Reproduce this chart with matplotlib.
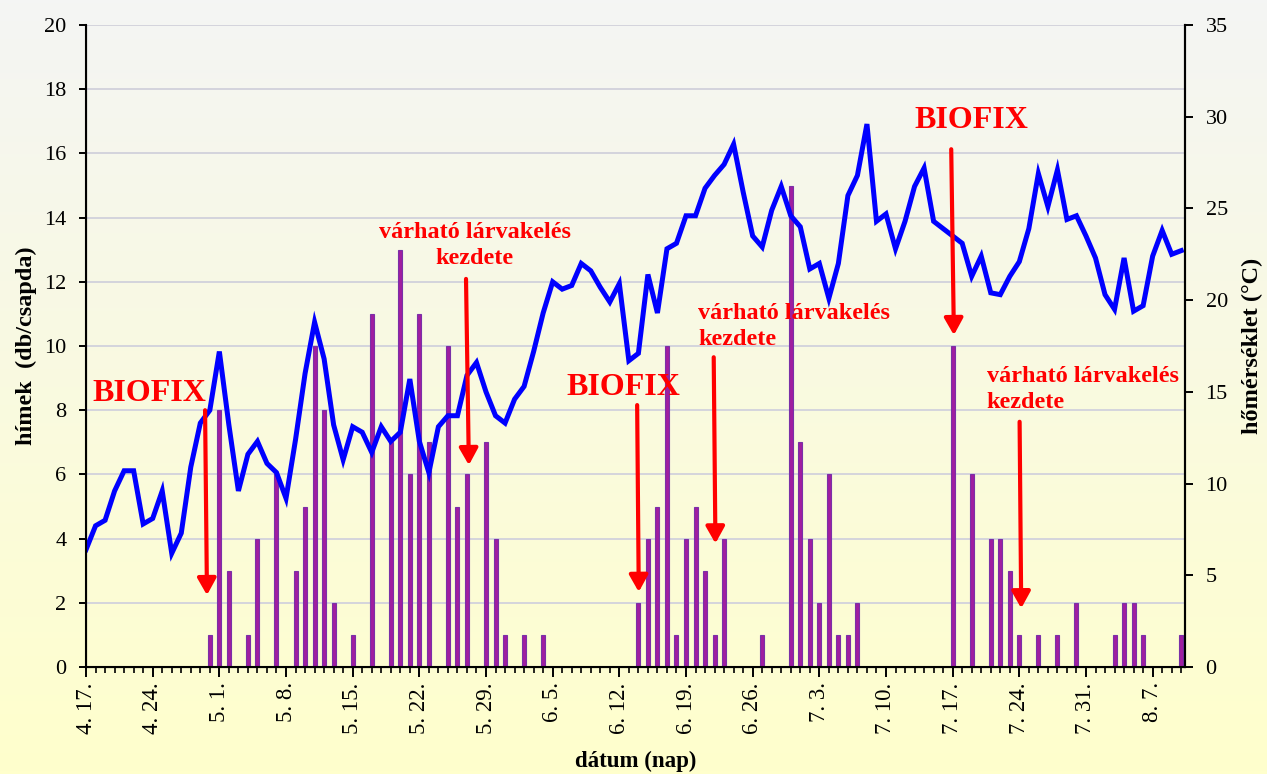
import numpy as np
import matplotlib.pyplot as plt
from matplotlib.ticker import MultipleLocator
from matplotlib.colors import LinearSegmentedColormap

plt.rcParams['font.family'] = ['Liberation Serif', 'DejaVu Serif']

# napi adatok 4. 17.-tol (0. nap) 8. 10.-ig (115. nap)
days = np.arange(116)
temp = [6.4, 7.7, 8.0, 9.6, 10.7, 10.7, 7.8, 8.1, 9.6, 6.2,
        7.3, 10.9, 13.3, 14.0, 17.2, 13.2, 9.6, 11.6, 12.3, 11.1,
        10.6, 9.2, 12.4, 16.0, 18.8, 16.8, 13.2, 11.3, 13.1, 12.8,
        11.7, 13.1, 12.3, 12.8, 15.7, 12.3, 10.6, 13.1, 13.7, 13.7,
        15.9, 16.6, 15.0, 13.7, 13.3, 14.6, 15.3, 17.2, 19.3, 21.0,
        20.6, 20.8, 22.0, 21.6, 20.7, 19.9, 20.9, 16.7, 17.1, 21.4,
        19.3, 22.8, 23.1, 24.6, 24.6, 26.1, 26.8, 27.4, 28.5, 25.9,
        23.5, 22.9, 24.9, 26.2, 24.6, 24.0, 21.7, 22.0, 20.1, 22.0,
        25.7, 26.8, 29.6, 24.3, 24.7, 22.8, 24.3, 26.2, 27.2, 24.3,
        23.9, 23.5, 23.1, 21.3, 22.4, 20.4, 20.3, 21.3, 22.1, 23.9,
        26.9, 25.1, 27.1, 24.4, 24.6, 23.5, 22.3, 20.3, 19.5, 22.3,
        19.4, 19.7, 22.4, 23.8, 22.5, 22.7]

# csapdazott himek (csak a nem nulla napok)
trap_days = [13, 14, 15, 17, 18, 20, 22, 23, 24, 25, 26, 28, 30, 32, 33, 34, 35, 36,
             38, 39, 40, 42, 43, 44, 46, 48, 58, 59, 60, 61, 62, 63, 64, 65, 66, 67,
             71, 74, 75, 76, 77, 78, 79, 80, 81, 91, 93, 95, 96, 97, 98, 100, 102,
             104, 108, 109, 110, 111, 115]
trap_counts = [1, 8, 3, 1, 4, 6, 3, 5, 10, 8, 2, 1, 11, 7, 13, 6, 11, 7,
               10, 5, 6, 7, 4, 1, 1, 1, 2, 4, 5, 10, 1, 4, 5, 3, 1, 4,
               1, 15, 7, 4, 2, 6, 1, 1, 2, 10, 6, 4, 4, 3, 1, 1, 1,
               2, 1, 2, 2, 1, 1]

tick_days = list(range(0, 113, 7))
tick_labels = ['4. 17.', '4. 24.', '5. 1.', '5. 8.', '5. 15.', '5. 22.', '5. 29.',
               '6. 5.', '6. 12.', '6. 19.', '6. 26.', '7. 3.', '7. 10.', '7. 17.',
               '7. 24.', '7. 31.', '8. 7.']

fig = plt.figure(figsize=(12.67, 7.74), dpi=100)

# hatter szinatmenet
bg = fig.add_axes([0, 0, 1, 1], zorder=-1)
cmap = LinearSegmentedColormap.from_list('bg', ['#F4F5F4', '#FFFFCC'])
bg.imshow(np.linspace(0, 1, 256)[:, None], aspect='auto', cmap=cmap,
          extent=[0, 1, 0, 1], origin='upper')
bg.axis('off')

ax = fig.add_axes([0.0679, 0.1382, 0.8674, 0.8295])
ax.set_facecolor('none')
ax.bar(trap_days, trap_counts, width=0.42, color='#A01EA0',
       edgecolor='#7A30A8', linewidth=0.8)
ax.set_xlim(0, 115.4)
ax.set_ylim(0, 20)
ax.yaxis.set_major_locator(MultipleLocator(2))
ax.yaxis.grid(True, color='#D4D4DC', linewidth=1.4)
ax.set_axisbelow(True)
ax.set_xticks(tick_days)
ax.set_xticklabels(tick_labels, rotation=90, fontsize=16.5)
ax.xaxis.set_minor_locator(MultipleLocator(1))
ax.tick_params(axis='x', which='major', direction='out', length=7, width=1.4, pad=4)
ax.tick_params(axis='x', which='minor', direction='out', length=4.3, width=1.2)
ax.tick_params(axis='y', direction='out', length=5, width=1.4, labelsize=16, pad=9)
ax.spines['top'].set_visible(False)
for s in ['left', 'bottom', 'right']:
    ax.spines[s].set_linewidth(1.5)
ax.set_ylabel('hímek  (db/csapda)', fontsize=17.5, fontweight='bold', labelpad=5)
ax.set_xlabel('dátum (nap)', fontsize=16.5, fontweight='bold', labelpad=12)

ax2 = ax.twinx()
ax2.plot(days, temp, color='#0000FF', linewidth=3.6, solid_joinstyle='miter')
ax2.set_ylim(0, 35)
ax2.yaxis.set_major_locator(MultipleLocator(5))
ax2.tick_params(axis='y', direction='out', length=5.8, width=1.4, labelsize=16, pad=9)
ax2.spines['top'].set_visible(False)
ax2.spines['right'].set_linewidth(1.5)
ax2.set_ylabel('hőmérséklet (°C)', fontsize=17.5, fontweight='bold', labelpad=10)

# feliratok es nyilak (a bal tengely koordinataiban)
red = '#FF0000'
arrow = dict(arrowstyle='-|>,head_length=0.5,head_width=0.28', color=red,
             lw=3, mutation_scale=20, shrinkA=0, shrinkB=0)
larva = 'várható lárvakelés\nkezdete'

ax2.text(6.64, 8.29, 'BIOFIX', transform=ax.transData, color=red, fontsize=23,
         fontweight='bold', ha='center', va='baseline')
ax2.annotate('', xy=(12.7, 2.24), xytext=(12.5, 8.0), xycoords=ax.transData,
             textcoords=ax.transData, arrowprops=arrow)

# va='baseline' -> az utolso sor alapvonala
ax2.text(40.8, 12.55, larva, transform=ax.transData, color=red, fontsize=17.5,
         fontweight='bold', ha='center', va='baseline', multialignment='center',
         linespacing=1.3)
ax2.annotate('', xy=(40.2, 6.29), xytext=(39.9, 12.09), xycoords=ax.transData,
             textcoords=ax.transData, arrowprops=arrow)

ax2.text(56.46, 8.47, 'BIOFIX', transform=ax.transData, color=red, fontsize=23,
         fontweight='bold', ha='center', va='baseline')
ax2.annotate('', xy=(58.04, 2.34), xytext=(57.87, 8.16), xycoords=ax.transData,
             textcoords=ax.transData, arrowprops=arrow)

ax2.text(64.28, 10.03, larva, transform=ax.transData, color=red, fontsize=17.5,
         fontweight='bold', ha='left', va='baseline', multialignment='left',
         linespacing=1.3)
ax2.annotate('', xy=(66.09, 3.85), xytext=(65.91, 9.65), xycoords=ax.transData,
             textcoords=ax.transData, arrowprops=arrow)

ax2.text(92.96, 16.78, 'BIOFIX', transform=ax.transData, color=red, fontsize=23,
         fontweight='bold', ha='center', va='baseline')
ax2.annotate('', xy=(91.13, 10.34), xytext=(90.85, 16.13), xycoords=ax.transData,
             textcoords=ax.transData, arrowprops=arrow)

ax2.text(94.56, 8.08, larva, transform=ax.transData, color=red, fontsize=17.5,
         fontweight='bold', ha='left', va='baseline', multialignment='left',
         linespacing=1.3)
ax2.annotate('', xy=(98.2, 1.83), xytext=(98.03, 7.64), xycoords=ax.transData,
             textcoords=ax.transData, arrowprops=arrow)

fig.savefig('out.png', dpi=100)
